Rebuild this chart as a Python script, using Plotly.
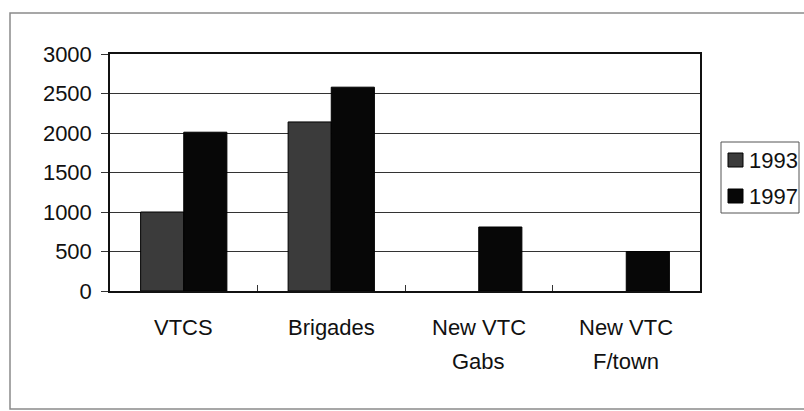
import plotly.graph_objects as go

# Chart data
categories = ["VTCS", "Brigades", "New VTC Gabs", "New VTC F/town"]
category_lines = [["VTCS"], ["Brigades"], ["New VTC", "Gabs"], ["New VTC", "F/town"]]
series_names = ["1993", "1997"]
values_1993 = [1000, 2140, None, None]
values_1997 = [2010, 2580, 810, 500]
y_ticks = [0, 500, 1000, 1500, 2000, 2500, 3000]

colors = {"1993": "#3b3b3b", "1997": "#070707"}
FONT = "Arial, Liberation Sans, sans-serif"

W, H = 804, 411
ML, MR, MT, MB = 110, 104, 54, 120
PW, PH = W - ML - MR, H - MT - MB


def px_x(x):
    return (x - ML) / PW


def px_y(y):
    return (H - MB - y) / PH


fig = go.Figure()
for name, vals in zip(series_names, [values_1993, values_1997]):
    fig.add_trace(go.Bar(
        x=categories, y=vals, name=name,
        marker=dict(color=colors[name], line=dict(color="#000000", width=1)),
        showlegend=False,
    ))

shapes = []
annotations = []

# outer frame around the whole chart
shapes.append(dict(type="rect", xref="paper", yref="paper",
                   x0=px_x(10), x1=px_x(830), y0=px_y(409), y1=px_y(13),
                   line=dict(color="#8a8a8a", width=1.5)))

# legend box with swatches
shapes.append(dict(type="rect", xref="paper", yref="paper",
                   x0=px_x(721), x1=px_x(799), y0=px_y(213), y1=px_y(142),
                   line=dict(color="#555555", width=1), fillcolor="white"))
for i, name in enumerate(series_names):
    cy = 160 + i * 36
    shapes.append(dict(type="rect", xref="paper", yref="paper",
                       x0=px_x(728), x1=px_x(743), y0=px_y(cy + 7), y1=px_y(cy - 7),
                       line=dict(color="#000000", width=1), fillcolor=colors[name]))
    annotations.append(dict(xref="paper", yref="paper", x=px_x(747), y=px_y(cy),
                            xanchor="left", yanchor="middle", showarrow=False,
                            text=name, font=dict(family=FONT, size=22, color="#111111")))

# category labels, one text line at a time below the axis
for cat, lines in zip(categories, category_lines):
    for j, line in enumerate(lines):
        annotations.append(dict(xref="x", yref="paper", x=cat, y=px_y(327 + 34 * j),
                                xanchor="center", yanchor="middle", showarrow=False,
                                text=line, font=dict(family=FONT, size=22, color="#111111")))

fig.update_layout(
    width=W, height=H,
    margin=dict(l=ML, r=MR, t=MT, b=MB, autoexpand=False),
    paper_bgcolor="white", plot_bgcolor="white",
    barmode="group", bargap=0.415, bargroupgap=0,
    font=dict(family=FONT, size=22, color="#111111"),
    shapes=shapes, annotations=annotations,
)
fig.update_yaxes(
    range=[0, 3000], tickvals=y_ticks, ticktext=[str(v) for v in y_ticks],
    showgrid=True, gridcolor="#333333", gridwidth=1,
    showline=True, linecolor="#111111", linewidth=1.5, mirror=True,
    ticks="outside", ticklen=7, tickcolor="#333333",
    ticklabelstandoff=5, zeroline=False,
)
fig.update_xaxes(
    showline=True, linecolor="#111111", linewidth=1.5, mirror=True,
    ticks="inside", tickson="boundaries", ticklen=6, tickcolor="#333333",
    showticklabels=False,
)

fig.write_html("out.html")
